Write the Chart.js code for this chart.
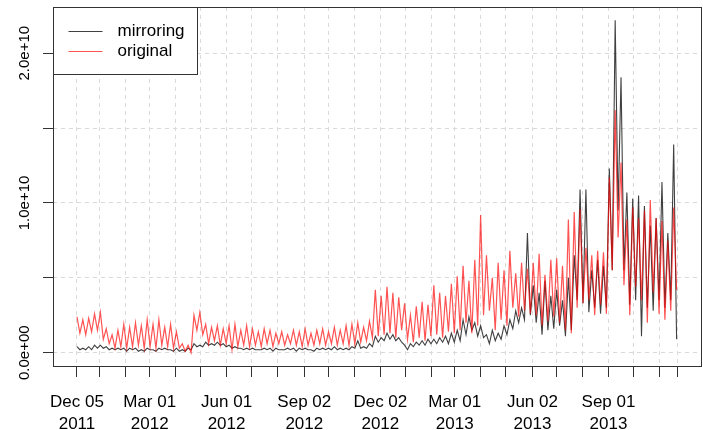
<!DOCTYPE html>
<html lang="en">
<head>
<meta charset="UTF-8">
<title>mirroring vs original</title>
<script src="https://cdn.jsdelivr.net/npm/chart.js@4.4.0/dist/chart.umd.min.js"></script>
<style>
  html, body { margin: 0; padding: 0; background: #fff; }
  #wrap { width: 703px; height: 430px; }
</style>
</head>
<body>
<div id="wrap"><canvas id="myChart" width="703" height="430"></canvas></div>
<script>
// x = days since Dec 05 2011, one value every half week (weekday high / weekend low)
const stepDays = 3.5;
const unit = 1e9;

// values in units of 1e9
const original = [
  2.4,1.3, 2.2,1.2, 2.3,1.4, 2.6,1.5, 2.7,0.9,
  1.6,0.6, 1.2,0.3, 1.5,0.4, 1.9,0.3,
  1.7,0.4, 2.0,0.5, 1.8,0.3, 2.2,0.4,
  1.9,0.3, 2.2,0.5, 1.7,0.4, 1.9,0.3,
  1.4,0.3, 0.6,0.1, 0.5,0.0,
  2.5,1.5, 2.7,1.2,
  1.9,0.6, 1.7,0.8, 1.8,0.5, 1.6,0.6,
  1.8,0.2, 1.9,0.4, 1.5,0.5, 1.8,0.4,
  1.6,0.5, 1.4,0.4, 1.6,0.6, 1.5,0.4,
  1.3,0.6, 1.4,0.5, 1.2,0.6, 1.5,0.5,
  1.4,0.4, 1.6,0.5, 1.3,0.5, 1.5,0.6,
  1.6,0.5, 1.4,0.6, 1.7,0.5, 1.5,0.6, 1.8,0.5,
  1.9,0.6, 2.0,0.7, 1.7,0.8, 2.1,1.0,
  4.2,1.1, 3.8,1.2, 4.4,1.3, 4.0,1.0, 3.7,1.5,
  3.3,0.9, 2.5,0.7, 3.1,1.0, 3.4,0.8, 3.2,1.1,
  4.5,1.2, 4.0,1.0, 3.8,1.4, 4.6,1.3,
  5.1,1.5, 5.8,2.0, 4.8,1.3, 6.2,1.8,
  9.2,2.5,
  6.5,2.8, 5.0,1.5, 6.0,2.2, 5.5,1.8,
  6.8,3.0, 5.3,2.4, 6.0,2.8, 5.6,2.6,
  6.0,2.5, 6.6,1.8, 5.2,2.1, 6.2,2.4,
  6.3,2.0, 5.8,1.5, 8.9,1.3, 9.4,3.0,
  9.6,3.3, 7.0,3.5, 6.5,2.5, 6.8,3.2, 6.7,2.6,
  11.7,5.5, 16.2,7.7, 12.7,4.5, 8.9,2.5,
  9.7,4.4, 9.0,3.5, 9.5,2.0, 10.2,4.0, 9.0,2.6,
  8.8,2.2, 7.5,2.8, 9.7,4.2
];

const mirroring = [
  0.4,0.2, 0.3,0.2, 0.4,0.2, 0.5,0.3, 0.5,0.3,
  0.4,0.2, 0.3,0.2, 0.3,0.2, 0.3,0.1,
  0.3,0.2, 0.3,0.1, 0.2,0.1, 0.3,0.2,
  0.2,0.1, 0.3,0.2, 0.3,0.2, 0.2,0.1,
  0.3,0.1, 0.2,0.1, 0.3,0.2,
  0.6,0.4, 0.5,0.4,
  0.7,0.5, 0.6,0.5, 0.7,0.5, 0.6,0.4,
  0.5,0.3, 0.4,0.3, 0.3,0.2, 0.3,0.2,
  0.3,0.2, 0.2,0.2, 0.3,0.2, 0.3,0.1,
  0.3,0.2, 0.2,0.2, 0.3,0.2, 0.3,0.1,
  0.3,0.2, 0.3,0.2, 0.2,0.1, 0.3,0.2,
  0.3,0.2, 0.3,0.2, 0.4,0.2, 0.3,0.2, 0.3,0.2,
  0.4,0.3, 0.8,0.3, 0.4,0.3, 0.6,0.4,
  1.1,0.7, 1.0,0.8, 1.3,0.9, 1.2,0.8, 1.0,0.7,
  0.5,0.2, 0.6,0.4, 0.7,0.5, 0.8,0.5, 0.9,0.6,
  0.9,0.6, 1.0,0.7, 1.1,0.6, 1.3,0.7,
  1.5,0.8, 2.2,1.2, 2.4,1.5, 2.0,1.1,
  1.8,1.0,
  1.2,0.6, 1.5,0.8, 1.3,0.9, 1.8,1.2,
  2.2,1.6, 2.8,2.0, 3.0,2.2, 8.0,2.5,
  4.5,2.0, 4.0,1.2, 4.8,1.5, 3.8,1.6,
  4.2,1.8, 3.5,1.1, 5.0,1.5, 6.5,3.5,
  10.9,3.3, 10.9,2.7, 5.5,3.0, 6.2,2.6, 5.8,3.0,
  12.3,5.5, 22.2,9.5, 18.4,5.5, 10.7,3.2,
  10.3,3.5, 10.5,1.1, 9.8,3.0, 8.5,2.8, 9.0,3.5,
  11.4,3.0, 8.0,3.5, 13.9,0.9
];

// x axis ticks (days since Dec 05 2011) and their labels
const tickDays = [0,27,58,87,118,148,179,209,240,272,301,332,363,393,424,452,483,513,545,574,605,636,666,697,718];
const tickLabels = [
  ['Dec 05','2011'],'','', ['Mar 01','2012'],'','', ['Jun 01','2012'],'','',
  ['Sep 02','2012'],'','', ['Dec 02','2012'],'','', ['Mar 01','2013'],'','',
  ['Jun 02','2013'],'','', ['Sep 01','2013'],'','', ''
];

const yTicks = [0, 5e9, 1e10, 1.5e10, 2e10];
const yLabels = ['0.0e+00', '', '1.0e+10', '', '2.0e+10'];

const seriesNames = ['mirroring', 'original'];
const seriesColors = ['rgba(0,0,0,0.75)', 'rgba(255,0,0,0.68)'];

const toPoints = arr => arr.map((v, i) => ({ x: i * stepDays, y: v * unit }));

// box round the plot + legend in the top left corner
const frame = {
  id: 'frame',
  afterDraw(chart) {
    const c = chart.ctx, a = chart.chartArea;
    c.save();
    c.strokeStyle = '#333';
    c.lineWidth = 1;
    c.strokeRect(Math.round(a.left) + 0.5, Math.round(a.top) + 0.5,
      Math.round(a.right - a.left), Math.round(a.bottom - a.top));

    const lx = Math.round(a.left) + 0.5, ly = Math.round(a.top) + 0.5;
    c.fillStyle = '#fff';
    c.fillRect(lx, ly, 144, 67);
    c.strokeRect(lx, ly, 144, 67);
    c.font = '17px "Liberation Sans", Arial, sans-serif';
    c.textBaseline = 'middle';
    for (let i = 0; i < seriesNames.length; i++) {
      const yy = ly + 24 + i * 20;
      c.strokeStyle = seriesColors[i];
      c.lineWidth = 1.2;
      c.beginPath();
      c.moveTo(lx + 15, yy);
      c.lineTo(lx + 49, yy);
      c.stroke();
      c.fillStyle = '#000';
      c.fillText(seriesNames[i], lx + 64, yy);
    }
    c.restore();
  }
};

const ctx = document.getElementById('myChart');
const myChart = new Chart(ctx, {
  type: 'line',
  data: {
    datasets: [
      { label: 'original', data: toPoints(original), borderColor: seriesColors[1],
        borderWidth: 1.2, pointRadius: 0, tension: 0, order: 0 },
      { label: 'mirroring', data: toPoints(mirroring), borderColor: seriesColors[0],
        borderWidth: 1.1, pointRadius: 0, tension: 0, order: 1 }
    ]
  },
  options: {
    responsive: false,
    animation: false,
    devicePixelRatio: 1,
    layout: { padding: { top: 7, right: 2, left: 0, bottom: 0 } },
    plugins: { legend: { display: false }, tooltip: { enabled: false } },
    scales: {
      x: {
        type: 'linear',
        min: -28.7,
        max: 746.7,
        afterBuildTicks: s => { s.ticks = tickDays.map(v => ({ value: v })); },
        afterFit: s => { s.height = 64; },
        grid: { color: '#d9d9d9', tickColor: '#333', tickLength: 11, tickBorderDash: [] },
        border: { display: false, dash: [4, 4] },
        ticks: {
          autoSkip: false, maxRotation: 0, padding: 14, color: '#000',
          font: { family: '"Liberation Sans", Arial, sans-serif', size: 17, lineHeight: 1.3 },
          callback: (v, i) => tickLabels[i]
        }
      },
      y: {
        min: -0.888e9,
        max: 23.088e9,
        afterBuildTicks: s => { s.ticks = yTicks.map(v => ({ value: v })); },
        afterFit: s => { s.width = 53; },
        grid: { color: '#d9d9d9', tickColor: '#333', tickLength: 10, tickBorderDash: [] },
        border: { display: false, dash: [4, 4] },
        ticks: {
          autoSkip: false, minRotation: 90, maxRotation: 90, crossAlign: 'center',
          padding: -9, color: '#000',
          font: { family: '"Liberation Sans", Arial, sans-serif', size: 15 },
          callback: (v, i) => yLabels[i]
        }
      }
    }
  },
  plugins: [frame]
});
</script>
</body>
</html>
